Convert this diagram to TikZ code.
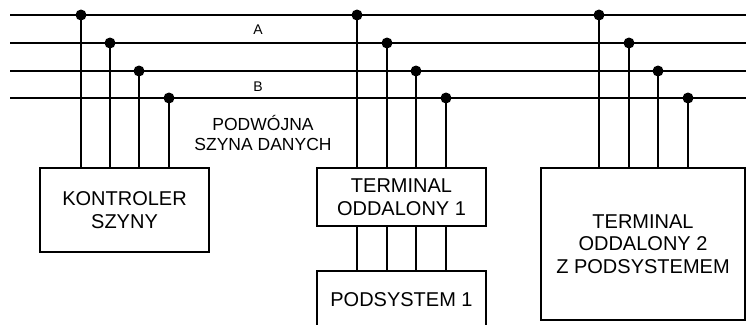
\documentclass[tikz,border=0pt]{standalone}
\usepackage{fontspec}
\setmainfont{Liberation Sans}
\begin{document}
\begin{tikzpicture}[x=1pt,y=-1pt,
  box/.style={draw, line width=2pt, align=center, inner sep=0pt, font=\fontsize{20}{22.5}\selectfont},
  dot/.style={circle, fill, inner sep=0pt, minimum size=11pt},
  wire/.style={line width=2pt},
  smalllbl/.style={align=center, inner sep=0pt, font=\fontsize{17.5}{20}\selectfont},
  buslbl/.style={inner sep=0pt, font=\fontsize{14}{16}\selectfont}]
\useasboundingbox (0,0) rectangle (746,324);
\clip (0,0) rectangle (746,324);

% boxes
\node[box, minimum width=169pt, minimum height=84pt] (ctrl) at (124.5,210) {KONTROLER\\SZYNY};
\node[box, minimum width=169pt, minimum height=58pt] (t1) at (401.5,197) {TERMINAL\\ODDALONY 1};
\node[box, minimum width=169pt, minimum height=58pt] (p1) at (401.5,300) {PODSYSTEM 1};
\node[box, minimum width=204pt, minimum height=152pt] (t2) at (643,244) {TERMINAL\\ODDALONY 2\\Z PODSYSTEMEM};

% bus lines
\foreach \y [count=\i] in {15,43,71,98} {
  \coordinate (bl\i) at (10,\y);
  \coordinate (br\i) at (750,\y);
  \draw[wire] (bl\i) -- (br\i);
}

% drops to controller
\foreach \x/\y [count=\i] in {81/15,110/43,139/71,169/98} {
  \coordinate (ja\i) at (\x,\y);
  \draw[wire] (ja\i) -- (ja\i |- ctrl.north);
  \node[dot] (da\i) at (ja\i) {};
}
% drops to terminal 1 and to subsystem 1
\foreach \x/\y [count=\i] in {357/15,387/43,416/71,446/98} {
  \coordinate (jb\i) at (\x,\y);
  \draw[wire] (jb\i) -- (jb\i |- t1.north);
  \draw[wire] (jb\i |- t1.south) -- (jb\i |- p1.north);
  \node[dot] (db\i) at (jb\i) {};
}
% drops to terminal 2
\foreach \x/\y [count=\i] in {599/15,629/43,658/71,688/98} {
  \coordinate (jc\i) at (\x,\y);
  \draw[wire] (jc\i) -- (jc\i |- t2.north);
  \node[dot] (dc\i) at (jc\i) {};
}

% labels
\node[buslbl] (la) at (258,30) {A};
\node[buslbl] (lb) at (258,87) {B};
\node[smalllbl] (lbus) at (263,133) {PODWÓJNA\\SZYNA DANYCH};
\end{tikzpicture}
\end{document}
